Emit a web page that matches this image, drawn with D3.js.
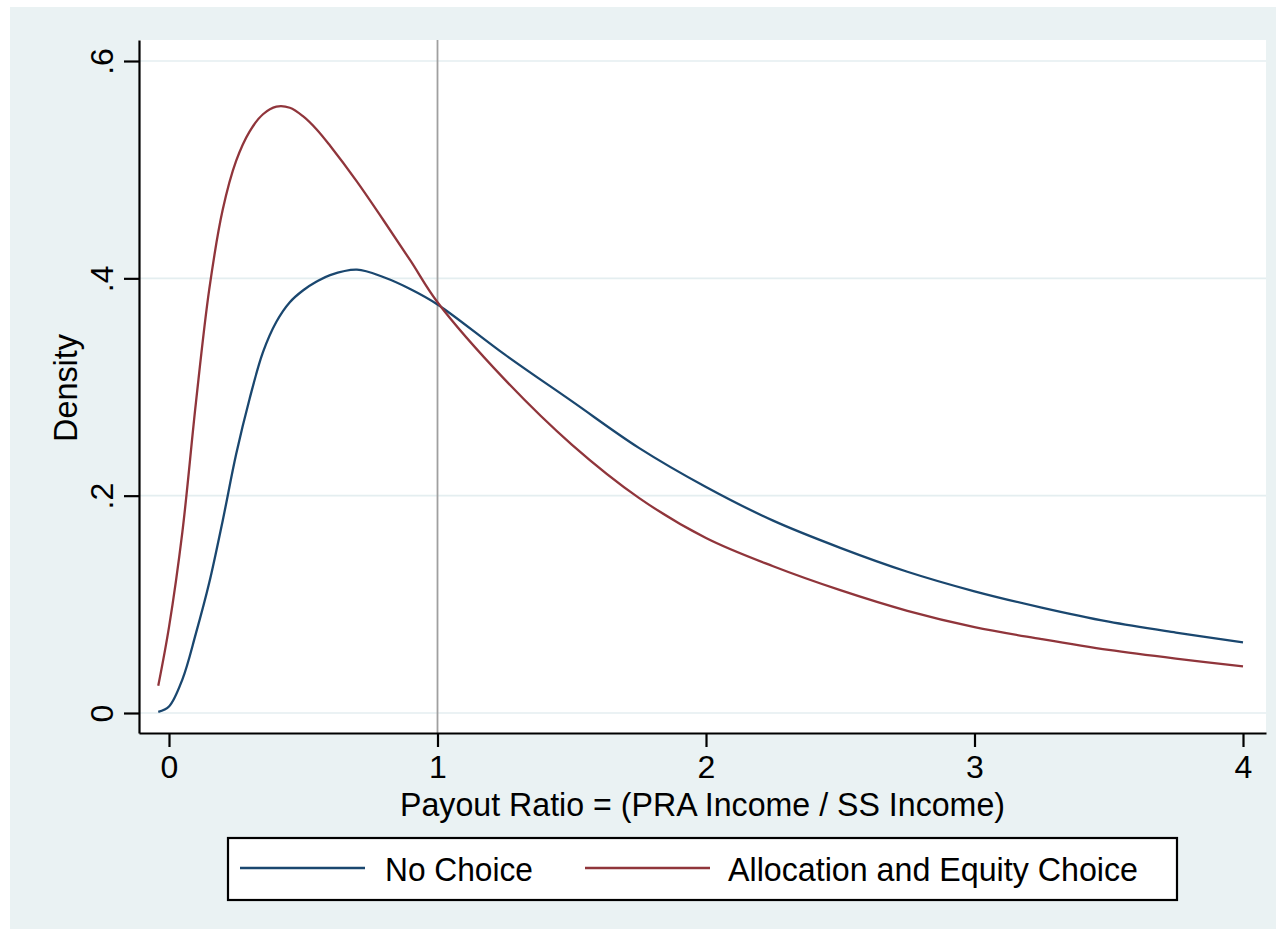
<!DOCTYPE html>
<html>
<head>
<meta charset="utf-8">
<script src="https://cdn.jsdelivr.net/npm/d3@7"></script>
<style>
  html, body { margin: 0; padding: 0; background: #ffffff; }
  text { font-family: "Liberation Sans", Arial, sans-serif; fill: #000; }
</style>
</head>
<body>
<div id="chart"></div>
<script>
// payout ratio grid the curves were read at
const ratio = [-0.04, 0, 0.05, 0.1, 0.15, 0.2, 0.25, 0.3, 0.35, 0.4, 0.45, 0.5, 0.55, 0.6, 0.7, 0.8, 0.9, 1.0,
  1.25, 1.5, 1.75, 2.0, 2.25, 2.5, 2.75, 3.0, 3.25, 3.5, 3.75, 4.0];

// No Choice density
const noChoice = [0.001, 0.006, 0.031, 0.073, 0.120, 0.177, 0.238, 0.289, 0.332, 0.360, 0.378, 0.389, 0.397, 0.403, 0.408, 0.401, 0.390, 0.376,
  0.330, 0.287, 0.244, 0.208, 0.177, 0.152, 0.130, 0.112, 0.097, 0.084, 0.074, 0.065];

// Allocation and Equity Choice density
const allocChoice = [0.025, 0.079, 0.167, 0.285, 0.390, 0.463, 0.508, 0.535, 0.551, 0.558, 0.557, 0.549, 0.537, 0.522, 0.489, 0.453, 0.416, 0.378,
  0.307, 0.247, 0.198, 0.161, 0.135, 0.113, 0.094, 0.079, 0.068, 0.058, 0.050, 0.043];

const xTicks = [0, 1, 2, 3, 4];
const yTicks = [0, 0.2, 0.4, 0.6];
const yTickLabels = ["0", ".2", ".4", ".6"];
const seriesNames = ["No Choice", "Allocation and Equity Choice"];
const refLine = 1;

const W = 1276, H = 937;
const plot = {left: 139, right: 1266, top: 40, bottom: 733};
const navy = "#1a476f", maroon = "#90353b";

const svg = d3.select("#chart").append("svg")
  .attr("width", W).attr("height", H);

// outer graph background
svg.append("rect")
  .attr("x", 10).attr("y", 7).attr("width", W - 10).attr("height", 922)
  .attr("fill", "#eaf2f3");

// plot region
svg.append("rect")
  .attr("x", plot.left).attr("y", plot.top)
  .attr("width", plot.right - plot.left).attr("height", plot.bottom - plot.top)
  .attr("fill", "#ffffff");

// x: 0 -> 169px, 4 -> 1243px
const x = d3.scaleLinear()
  .domain([(plot.left - 169) / 268.5, (plot.right - 169) / 268.5])
  .range([plot.left, plot.right]);

// y: 0 -> 713px, .6 -> 61px
const ySlope = (713 - 61) / 0.6;
const y = d3.scaleLinear()
  .domain([(713 - plot.bottom) / ySlope, (713 - plot.top) / ySlope])
  .range([plot.bottom, plot.top]);

// grid lines
svg.append("g").selectAll("line")
  .data(yTicks)
  .enter().append("line")
    .attr("x1", plot.left).attr("x2", plot.right)
    .attr("y1", d => y(d)).attr("y2", d => y(d))
    .attr("stroke", "#e4eef0").attr("stroke-width", 1.6);

// vertical reference line at ratio 1
svg.append("line")
  .attr("x1", x(refLine)).attr("x2", x(refLine))
  .attr("y1", plot.top).attr("y2", plot.bottom)
  .attr("stroke", "#a0a0a0").attr("stroke-width", 1.8);

// density curves
const line = d3.line()
  .x((d, i) => x(ratio[i]))
  .y(d => y(d))
  .curve(d3.curveCatmullRom.alpha(0.5));

svg.append("path")
  .datum(noChoice)
  .attr("fill", "none")
  .attr("stroke", navy)
  .attr("stroke-width", 2.3)
  .attr("d", line);

svg.append("path")
  .datum(allocChoice)
  .attr("fill", "none")
  .attr("stroke", maroon)
  .attr("stroke-width", 2.3)
  .attr("d", line);

// X axis
const gx = svg.append("g")
  .attr("transform", `translate(0,${plot.bottom})`)
  .call(d3.axisBottom(x).tickValues(xTicks).tickSize(14).tickSizeOuter(0).tickPadding(8)
    .tickFormat(d3.format("d")));
gx.select(".domain").attr("stroke", "#000").attr("stroke-width", 2.2);
gx.selectAll(".tick line").attr("stroke", "#000").attr("stroke-width", 2.2);
gx.selectAll(".tick text")
  .attr("font-family", "Liberation Sans, Arial, sans-serif")
  .attr("font-size", 32).attr("fill", "#000");

// Y axis
const gy = svg.append("g")
  .attr("transform", `translate(${plot.left},0)`)
  .call(d3.axisLeft(y).tickValues(yTicks).tickSize(15).tickSizeOuter(0)
    .tickFormat((d, i) => yTickLabels[i]));
gy.select(".domain").attr("stroke", "#000").attr("stroke-width", 2.2);
gy.selectAll(".tick line").attr("stroke", "#000").attr("stroke-width", 2.2);
gy.selectAll(".tick text")
  .attr("font-family", "Liberation Sans, Arial, sans-serif")
  .attr("font-size", 32).attr("fill", "#000")
  .attr("text-anchor", "middle")
  .attr("dy", null)
  .attr("x", null)
  .attr("transform", "translate(-26,0) rotate(-90)");

// axis titles
svg.append("text")
  .attr("x", (plot.left + plot.right) / 2)
  .attr("y", 816)
  .attr("text-anchor", "middle")
  .attr("font-size", 34)
  .attr("textLength", 605).attr("lengthAdjust", "spacingAndGlyphs")
  .text("Payout Ratio = (PRA Income / SS Income)");

svg.append("text")
  .attr("transform", "translate(77,388) rotate(-90)")
  .attr("text-anchor", "middle")
  .attr("font-size", 34)
  .attr("textLength", 108).attr("lengthAdjust", "spacingAndGlyphs")
  .text("Density");

// legend
const legend = svg.append("g");
legend.append("rect")
  .attr("x", 228).attr("y", 838).attr("width", 949).attr("height", 62)
  .attr("fill", "#ffffff").attr("stroke", "#000").attr("stroke-width", 2.2);

const legendItems = [
  {name: seriesNames[0], color: navy, x0: 240, tx: 385, tw: 148},
  {name: seriesNames[1], color: maroon, x0: 585, tx: 728, tw: 410}
];
legendItems.forEach(it => {
  legend.append("line")
    .attr("x1", it.x0).attr("x2", it.x0 + 125)
    .attr("y1", 868).attr("y2", 868)
    .attr("stroke", it.color).attr("stroke-width", 2.3);
  legend.append("text")
    .attr("x", it.tx).attr("y", 881)
    .attr("font-size", 34)
    .attr("textLength", it.tw).attr("lengthAdjust", "spacingAndGlyphs")
    .text(it.name);
});
</script>
</body>
</html>
